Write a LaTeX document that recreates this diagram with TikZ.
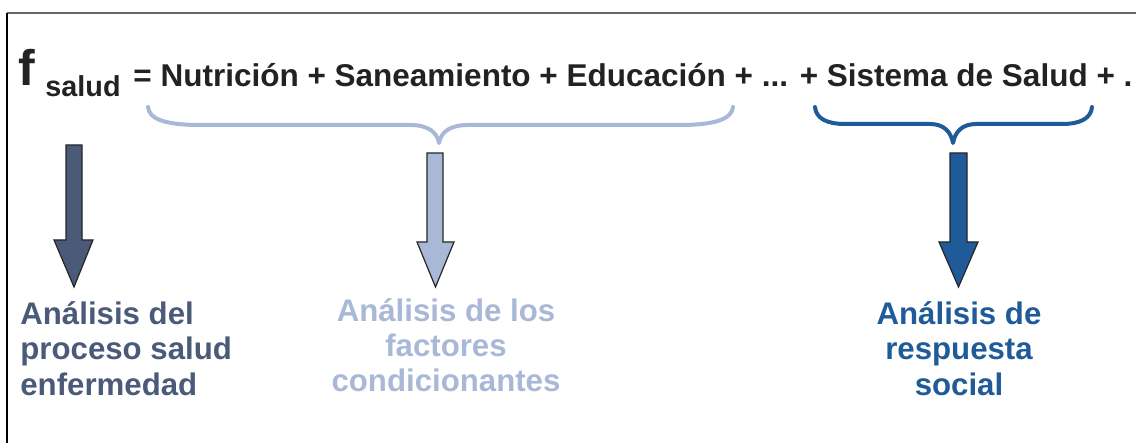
\documentclass[tikz,border=0pt]{standalone}
\usepackage{fontspec}
\setmainfont{Liberation Sans}
\definecolor{cA}{HTML}{4A5A78}
\definecolor{cB}{HTML}{A9B8D6}
\definecolor{cC}{HTML}{1F5A99}
\definecolor{ink}{HTML}{222222}
\definecolor{framegray}{HTML}{666666}
\tikzset{
  eqtext/.style={inner sep=0pt, text=ink, font=\bfseries\fontsize{15.75}{18}\selectfont},
  lbl/.style={inner sep=0pt, font=\bfseries\fontsize{15.6}{17.7}\selectfont},
  bracestroke/.style={line width=2pt, line cap=round, line join=round},
  blockarrow/.style={draw=black!85, line width=0.6pt, line join=miter},
}
\begin{document}
\begin{tikzpicture}[x=0.5pt,y=-0.5pt]
\useasboundingbox (0,0) rectangle (1136,443);
% frame
\draw[framegray, line width=0.8pt] (7,13) -- (1136,13);
\draw[black, line width=0.8pt] (7,13) -- (7,443);
% formula
\node[eqtext, anchor=base west, font=\bfseries\fontsize{25}{26}\selectfont] (f) at (18,86) {f};
\node[eqtext, anchor=base west, font=\bfseries\fontsize{14.4}{16}\selectfont] (sub) at (45,97) {salud};
\node[eqtext, anchor=base west] (eq) at (133,87) {= Nutrición + Saneamiento + Educación + ... + Sistema de Salud + .};
% braces
\draw[bracestroke, cB] (148,107) .. controls (149,119) and (165,125) .. (200,125) -- (410,125)
  .. controls (428,125) and (437,132) .. (439,143) coordinate (tipB)
  .. controls (441,132) and (450,125) .. (468,125) -- (680,125)
  .. controls (715,125) and (732,119) .. (733,107);
\draw[bracestroke, cC] (815,107) .. controls (816,118) and (826,124) .. (845,124) -- (930,124)
  .. controls (944,124) and (951,132) .. (953,143) coordinate (tipC)
  .. controls (955,132) and (962,124) .. (976,124) -- (1062,124)
  .. controls (1081,124) and (1091,118) .. (1092,107);
% block arrows
\draw[blockarrow, fill=cA] (66,145) -- (82,145) -- (82,240) -- (93,240) -- (74,287) -- (54,240) -- (66,240) -- cycle;
\draw[blockarrow, fill=cB] (427,153) -- (443,153) -- (443,242) -- (454,242) -- (435.5,287) -- (417,242) -- (427,242) -- cycle;
\draw[blockarrow, fill=cC] (950,153) -- (967,153) -- (967,242) -- (978,242) -- (958.5,287) -- (939,242) -- (950,242) -- cycle;
% labels (base anchor = baseline of last line)
\node[lbl, text=cA, anchor=base west, align=left] (la) at (20,395) {Análisis del\\proceso salud\\enfermedad};
\node[lbl, text=cB, anchor=base, align=center] (lb) at (446,392) {Análisis de los\\factores\\condicionantes};
\node[lbl, text=cC, anchor=base, align=center] (lc) at (959,395) {Análisis de\\respuesta\\social};
\end{tikzpicture}
\end{document}
